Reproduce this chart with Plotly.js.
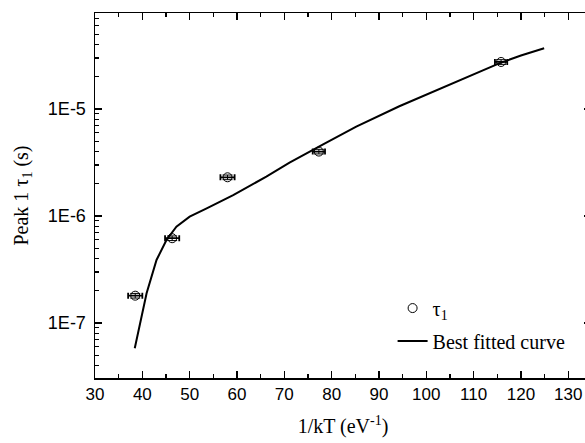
<!DOCTYPE html>
<html>
<head>
<meta charset="utf-8">
<script src="https://cdn.plot.ly/plotly-3.0.1.min.js"></script>
<style>html,body{margin:0;padding:0;overflow:hidden;background:#fff;}</style>
</head>
<body>
<div id="chart"></div>
<script>
// Measured points (tau_1)
const invKT = [38.5, 46.3, 58.0, 77.3, 115.8];
const tau1 = [1.8e-7, 6.2e-7, 2.3e-6, 4.0e-6, 2.75e-5];
const xErr = [1.5, 1.5, 1.5, 1.3, 1.3];

// Best fitted curve
const fitX = [38.4, 39.5, 40.9, 43.0, 45.1, 47.2, 50.0, 53.6, 59.2, 66.2, 71.1, 78.2, 85.2, 94.3, 101.4, 108.4, 115.4, 120.0, 124.9];
const fitY = [5.8e-8, 1.0e-7, 1.9e-7, 3.88e-7, 5.97e-7, 7.94e-7, 9.86e-7, 1.18e-6, 1.57e-6, 2.33e-6, 3.15e-6, 4.68e-6, 6.84e-6, 1.06e-5, 1.445e-5, 1.97e-5, 2.67e-5, 3.16e-5, 3.69e-5];

const yTickVals = [1e-7, 1e-6, 1e-5];
const yTickText = ['1E-7', '1E-6', '1E-5'];
const yMinorVals = [];
[1e-8, 1e-7, 1e-6, 1e-5].forEach(d => { for (let k = 2; k <= 9; k++) yMinorVals.push(k * d); });

const serif = 'Liberation Serif, Times New Roman, serif';
const sans = 'Liberation Sans, Arial, sans-serif';

const traces = [
  {
    x: invKT, y: tau1, type: 'scatter', mode: 'markers', name: 'τ<sub>1</sub>', legendgroup: 'a',
    marker: {symbol: 'circle-open', size: 9, color: '#000', line: {width: 1, color: '#000'}},
    error_x: {type: 'data', array: xErr, visible: true, color: '#000', thickness: 1.8, width: 3},
    error_y: {type: 'percent', value: 5, visible: true, color: '#000', thickness: 1, width: 5}
  },
  {
    x: fitX, y: fitY, type: 'scatter', mode: 'lines', name: 'Best fitted curve', legendgroup: 'b',
    line: {color: '#000', width: 2}
  }
];

const layout = {
  width: 596, height: 443,
  margin: {l: 95, r: 5, t: 13, b: 65},
  paper_bgcolor: '#fff', plot_bgcolor: '#fff',
  showlegend: true,
  legend: {x: 0.6, y: 0.245, xanchor: 'left', yanchor: 'top', bgcolor: 'rgba(0,0,0,0)', borderwidth: 0,
           font: {family: serif, size: 20, color: '#000'}, tracegroupgap: 4},
  xaxis: {
    range: [30, 134.8], tickmode: 'linear', tick0: 30, dtick: 10,
    ticks: 'inside', ticklen: 7, tickwidth: 1.2, tickcolor: '#000',
    minor: {ticks: 'inside', ticklen: 4, tickwidth: 1.2, tickcolor: '#000', dtick: 5},
    showline: true, linecolor: '#000', linewidth: 1.5, mirror: 'ticks',
    showgrid: false, zeroline: false,
    tickfont: {family: sans, size: 17, color: '#000'},
    title: {text: '1/kT (eV<sup>-1</sup>)', font: {family: serif, size: 20, color: '#000'}, standoff: 16}
  },
  yaxis: {
    type: 'log', range: [-7.514, -4.103],
    tickvals: yTickVals, ticktext: yTickText,
    ticks: 'inside', ticklen: 7, tickwidth: 1.2, tickcolor: '#000',
    minor: {ticks: 'inside', ticklen: 4, tickwidth: 1.2, tickcolor: '#000', showgrid: false,
            tickmode: 'array', tickvals: yMinorVals},
    showline: true, linecolor: '#000', linewidth: 1.5, mirror: 'ticks',
    showgrid: false, zeroline: false, ticklabelstandoff: 4,
    tickfont: {family: sans, size: 18, color: '#000'},
    title: {text: 'Peak 1 τ<sub>1</sub> (s)', font: {family: serif, size: 20, color: '#000'}, standoff: 14}
  }
};

Plotly.newPlot('chart', traces, layout, {displayModeBar: false, staticPlot: true});
</script>
</body>
</html>
